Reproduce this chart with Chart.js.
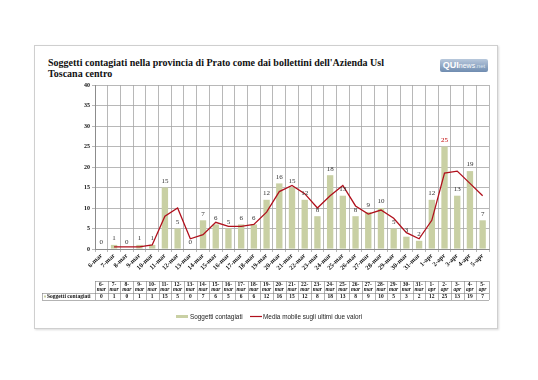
<!DOCTYPE html>
<html>
<head>
<meta charset="utf-8">
<script src="https://cdn.jsdelivr.net/npm/chart.js@4.4.1/dist/chart.umd.min.js"></script>
<style>
  html, body { margin: 0; padding: 0; background: #ffffff; width: 538px; height: 380px; overflow: hidden; }
  #frame { position: absolute; left: 34px; top: 45px; width: 462px; height: 282px; border: 1px solid #cfcfcf; box-shadow: 1px 1px 2px rgba(0,0,0,0.15); background: #fff; }
  #title { position: absolute; left: 48px; top: 57px; width: 400px; font: bold 10px "Liberation Serif", "DejaVu Serif", serif; line-height: 11px; color: #111; }
  #logo { position: absolute; left: 440px; top: 59px; width: 48px; height: 13px; border-radius: 2px; background: linear-gradient(#b8c8dc, #6f8cb0); font: bold 9px "Liberation Sans", sans-serif; line-height: 13px; color: #fff; text-align: center; letter-spacing: 0; }
  #logo span.n { font-size: 7px; font-weight: normal; }
  #logo span.t { font-size: 6px; font-weight: normal; color: #dde6f0; }
  canvas { position: absolute; left: 0; top: 0; }
</style>
</head>
<body>
<div id="frame"></div>
<div id="title">Soggetti contagiati nella provincia di Prato come dai bollettini dell'Azienda Usl<br>Toscana centro</div>
<div id="logo">QUI<span class="n">news</span><span class="t">.net</span></div>
<canvas id="c" width="538" height="380"></canvas>
<script>
const categories = ['6-mar','7-mar','8-mar','9-mar','10-mar','11-mar','12-mar','13-mar','14-mar','15-mar','16-mar','17-mar','18-mar','19-mar','20-mar','21-mar','22-mar','23-mar','24-mar','25-mar','26-mar','27-mar','28-mar','29-mar','30-mar','31-mar','1-apr','2-apr','3-apr','4-apr','5-apr'];
const contagiati = [0,1,0,1,1,15,5,0,7,6,5,6,6,12,16,15,12,8,18,13,8,9,10,5,3,2,12,25,13,19,7];
const mediaMobile = [null,0.5,0.5,0.5,1,8,10,2.5,3.5,6.5,5.5,5.5,6,9,14,15.5,13.5,10,13,15.5,10.5,8.5,9.5,7.5,4,2.5,7,18.5,19,16,13];
const yTicks = [0,5,10,15,20,25,30,35,40];
const seriesNames = ['Soggetti contagiati', 'Media mobile sugli ultimi due valori'];

const barColor = '#c9d0a4';
const lineColor = '#b0101c';
const serif = '"Liberation Serif", "DejaVu Serif", serif';
const sans = '"Liberation Sans Narrow", "Liberation Sans", sans-serif';

const extras = {
  id: 'extras',
  afterDatasetsDraw(chart) {
    const ctx = chart.ctx;
    const y = chart.scales.y;
    const meta = chart.getDatasetMeta(1);
    ctx.save();
    ctx.font = '7px ' + serif;
    ctx.textAlign = 'center';
    ctx.textBaseline = 'bottom';
    meta.data.forEach((bar, i) => {
      ctx.fillStyle = contagiati[i] === 25 ? '#c00000' : '#333';
      ctx.fillText(String(contagiati[i]), bar.x, y.getPixelForValue(contagiati[i]) - 3);
    });
    ctx.restore();
  },
  afterDraw(chart) {
    const ctx = chart.ctx;
    const x = chart.scales.x;
    const n = categories.length;
    const half = (x.getPixelForValue(1) - x.getPixelForValue(0)) / 2;
    const left = x.getPixelForValue(0) - half;
    const right = x.getPixelForValue(n - 1) + half;
    const top = 281, mid = 293, bot = 300;
    ctx.save();
    ctx.strokeStyle = '#7f7f7f';
    ctx.lineWidth = 0.6;
    ctx.beginPath();
    ctx.moveTo(left, top + 0.5); ctx.lineTo(right, top + 0.5);
    ctx.moveTo(42, mid + 0.5); ctx.lineTo(right, mid + 0.5);
    ctx.moveTo(42, bot + 0.5); ctx.lineTo(right, bot + 0.5);
    ctx.moveTo(42.5, mid); ctx.lineTo(42.5, bot);
    for (let i = 0; i <= n; i++) {
      const px = Math.round(left + i * 2 * half) + 0.5;
      ctx.moveTo(px, top); ctx.lineTo(px, bot);
    }
    ctx.stroke();
    ctx.fillStyle = '#111';
    ctx.textAlign = 'center';
    ctx.textBaseline = 'middle';
    categories.forEach((c, i) => {
      const cx = x.getPixelForValue(i);
      const parts = c.split('-');
      ctx.font = 'bold 5.5px ' + serif;
      ctx.fillText(parts[0] + '-', cx, 285);
      ctx.font = 'bold italic 5.5px ' + serif;
      ctx.fillText(parts[1], cx, 290);
      ctx.font = 'bold 5.5px ' + serif;
      ctx.fillText(String(contagiati[i]), cx, 297);
    });
    ctx.textAlign = 'left';
    ctx.font = 'bold 5.5px ' + serif;
    ctx.fillStyle = barColor;
    ctx.fillRect(44, 295.5, 2, 2);
    ctx.fillStyle = '#111';
    ctx.fillText(seriesNames[0], 47, 297);
    // legend
    ctx.fillStyle = barColor;
    ctx.fillRect(176, 315, 12, 3);
    ctx.fillStyle = '#222';
    ctx.font = '6.4px ' + sans;
    ctx.fillText(seriesNames[0], 190, 317);
    ctx.strokeStyle = lineColor;
    ctx.lineWidth = 1.2;
    ctx.beginPath();
    ctx.moveTo(250, 316.5); ctx.lineTo(262, 316.5);
    ctx.stroke();
    ctx.fillText(seriesNames[1], 263, 317);
    ctx.restore();
  }
};

new Chart(document.getElementById('c'), {
  data: {
    labels: categories,
    datasets: [
      {
        type: 'line',
        label: seriesNames[1],
        data: mediaMobile,
        borderColor: lineColor,
        borderWidth: 1.3,
        pointRadius: 0,
        tension: 0,
        spanGaps: false,
        order: 0
      },
      {
        type: 'bar',
        label: seriesNames[0],
        data: contagiati,
        backgroundColor: barColor,
        borderWidth: 0,
        categoryPercentage: 1,
        barPercentage: 0.5,
        order: 1
      }
    ]
  },
  options: {
    responsive: false,
    animation: false,
    devicePixelRatio: 1,
    layout: { padding: { left: 81, top: 85, right: 49, bottom: 101 } },
    plugins: { legend: { display: false }, tooltip: { enabled: false } },
    scales: {
      x: {
        offset: true,
        grid: { offset: true, color: '#a6a6a6', lineWidth: 0.8, tickLength: 3, drawTicks: true },
        border: { color: '#8c8c8c' },
        ticks: { autoSkip: false, maxRotation: 45, minRotation: 45, padding: 0, color: '#111', font: { family: serif, size: 6.5, weight: 'bold' } },
        afterFit(s) { s.height = 30; }
      },
      y: {
        min: 0, max: 40,
        afterBuildTicks(s) { s.ticks = yTicks.map(v => ({ value: v })); },
        grid: { color: '#a6a6a6', lineWidth: 0.8, tickLength: 3 },
        border: { color: '#8c8c8c' },
        ticks: { padding: 2, color: '#111', font: { family: serif, size: 6, weight: 'bold' } },
        afterFit(s) { s.width = 14; }
      }
    }
  },
  plugins: [extras]
});
</script>
</body>
</html>
